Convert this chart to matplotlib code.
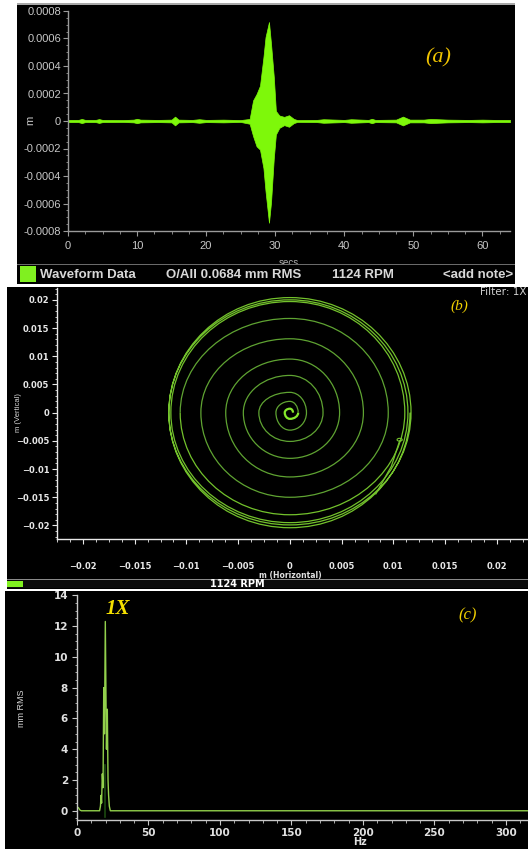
import numpy as np
import matplotlib.pyplot as plt
from matplotlib.patches import Rectangle, PathPatch, Ellipse
from matplotlib.path import Path
from matplotlib.ticker import MultipleLocator

# --- values ---
# (a) waveform envelope, secs vs m
wave_t = [0, 1.5, 2, 2.5, 4, 4.5, 5, 8, 9.5, 10, 10.5, 13, 15, 15.5, 16, 18, 19, 20,
          22.5, 25, 26.3, 26.8, 27.3, 27.8, 28.3, 28.6, 29.1, 29.4, 29.8, 30.1, 30.6,
          31.3, 32.0, 32.7, 33.2, 36, 37, 40, 41, 43.5, 44, 44.5, 47.5, 48.5, 49.5,
          51.5, 52.5, 55, 58, 60, 62, 64]
wave_hi = [0.8e-5, 0.8e-5, 1.5e-5, 0.8e-5, 0.8e-5, 1.4e-5, 0.8e-5, 0.7e-5, 1.0e-5, 1.6e-5,
           1.0e-5, 0.8e-5, 1.0e-5, 3.2e-5, 1.0e-5, 0.8e-5, 1.3e-5, 0.8e-5, 1.0e-5, 0.7e-5,
           1.5e-5, 1.5e-4, 1.96e-4, 2.57e-4, 4.65e-4, 6.1e-4, 7.2e-4, 5.6e-4, 3.2e-4, 7.3e-5,
           4.0e-5, 3.0e-5, 4.2e-5, 1.5e-5, 0.7e-5, 0.8e-5, 1.3e-5, 0.8e-5, 1.3e-5, 0.8e-5,
           1.6e-5, 0.8e-5, 1.0e-5, 3.2e-5, 1.0e-5, 1.0e-5, 1.5e-5, 1.0e-5, 0.8e-5, 1.0e-5,
           0.8e-5, 0.8e-5]
wave_lo = [-0.8e-5, -0.8e-5, -1.5e-5, -0.8e-5, -0.8e-5, -1.4e-5, -0.8e-5, -0.7e-5, -1.0e-5, -1.6e-5,
           -1.0e-5, -0.8e-5, -1.0e-5, -3.2e-5, -1.0e-5, -0.8e-5, -1.3e-5, -0.8e-5, -1.0e-5, -0.7e-5,
           -2.0e-5, -1.1e-4, -1.84e-4, -2.08e-4, -3.43e-4, -5.1e-4, -7.4e-4, -5.9e-4, -2.7e-4, -9.8e-5,
           -5.0e-5, -3.0e-5, -4.2e-5, -1.5e-5, -0.7e-5, -0.8e-5, -1.3e-5, -0.8e-5, -1.3e-5, -0.8e-5,
           -1.6e-5, -0.8e-5, -1.0e-5, -3.2e-5, -1.0e-5, -1.0e-5, -1.5e-5, -1.0e-5, -0.8e-5, -1.0e-5,
           -0.8e-5, -0.8e-5]
a_yticks = [-0.0008, -0.0006, -0.0004, -0.0002, 0, 0.0002, 0.0004, 0.0006, 0.0008]
a_ylabels = ['-0.0008', '-0.0006', '-0.0004', '-0.0002', '0', '0.0002', '0.0004', '0.0006', '0.0008']
a_xticks = [0, 10, 20, 30, 40, 50, 60]

# (b) orbit: successive axis crossings (right, top, left, bottom, ...), m
orbit_x = [0.0003, 0, -0.0005, 0, 0.0008, 0, -0.00135, 0, 0.0016, 0, -0.003, 0, 0.0032, 0,
           -0.0045, 0, 0.0048, 0, -0.0062, 0, 0.0071, 0, -0.0086, 0, 0.0095, 0, -0.0106, 0,
           0.0111, 0, -0.0115, 0, 0.0114, 0, -0.0117, 0, 0.0117, 0, -0.0117, 0, 0.0116]
orbit_y = [0, 0.0007, 0, -0.0011, 0, 0.0020, 0, -0.0031, 0, 0.0036, 0, -0.0051, 0, 0.0066,
           0, -0.0081, 0, 0.0095, 0, -0.0114, 0, 0.0131, 0, -0.0150, 0, 0.0167, 0, -0.0181,
           0, 0.0197, 0, -0.0195, 0, 0.0200, 0, -0.0199, 0, 0.0204, 0, -0.0204, 0]
tail_x = [0.0083, 0.0098, 0.0106]
tail_y = [-0.0144, -0.0095, -0.0050]
loop_xy = (0.0106, -0.0048)
b_ticks = [-0.02, -0.015, -0.01, -0.005, 0, 0.005, 0.01, 0.015, 0.02]
b_labels = ['\u22120.02', '\u22120.015', '\u22120.01', '\u22120.005', '0',
            '0.005', '0.01', '0.015', '0.02']

# (c) spectrum, Hz vs mm RMS
spec_hz = [0, 1, 2, 3, 15.8, 16.4, 16.8, 17.2, 17.7, 18.2, 18.7, 19.2, 19.8, 20.6, 21.2,
           21.7, 22.1, 22.6, 23.3, 320]
spec_amp = [0.25, 0.2, 0.05, 0, 0, 0.3, 1.0, 0.5, 2.4, 1.5, 8.0, 5.0, 12.3, 4.0, 6.6,
            2.0, 1.0, 0.3, 0, 0]
marker_hz = 19.6
c_yticks = [0, 2, 4, 6, 8, 10, 12, 14]
c_xticks = [0, 50, 100, 150, 200, 250, 300]

W, H = 528, 849
GREEN = '#7ef80a'
SANS = 'Liberation Sans'
WIDE = 'DejaVu Sans'


def fig_rect(x0, y0, x1, y1):
    return [x0 / W, 1 - y1 / H, (x1 - x0) / W, (y1 - y0) / H]


def add_box(fig, x0, y0, x1, y1, color, z=-1):
    fig.add_artist(Rectangle((x0 / W, 1 - y1 / H), (x1 - x0) / W, (y1 - y0) / H,
                             transform=fig.transFigure, facecolor=color,
                             edgecolor='none', zorder=z))


def fig_text(fig, x, y, s, **kw):
    fig.text(x / W, 1 - y / H, s, **kw)


def style_axes(ax, color):
    ax.set_facecolor('none')
    for side in ['top', 'right']:
        ax.spines[side].set_visible(False)
    for side in ['left', 'bottom']:
        ax.spines[side].set_color(color)
        ax.spines[side].set_linewidth(1.0)


fig = plt.figure(figsize=(W / 100, H / 100), dpi=100)
fig.patch.set_facecolor('white')

# ---------------- panel (a) ----------------
add_box(fig, 17, 3, 515, 284, 'black')
add_box(fig, 17, 3, 515, 4.5, '#a8a8a8', z=-0.5)
ax_a = fig.add_axes(fig_rect(68, 11, 510, 231))
style_axes(ax_a, '#9a9a9a')
ax_a.fill_between(wave_t, wave_lo, wave_hi, color=GREEN, lw=0.5)
ax_a.set_xlim(0, 64)
ax_a.set_ylim(-0.0008, 0.0008)
ax_a.set_yticks(a_yticks)
ax_a.set_yticklabels(a_ylabels)
ax_a.set_xticks(a_xticks)
ax_a.xaxis.set_minor_locator(MultipleLocator(2.5))
ax_a.yaxis.set_minor_locator(MultipleLocator(0.00005))
ax_a.tick_params(which='both', colors='#9a9a9a', labelcolor='#c8c8c8', labelsize=8)
ax_a.tick_params(which='major', length=3.5, width=0.8)
ax_a.tick_params(which='minor', length=1.8, width=0.6)
ax_a.tick_params(axis='y', pad=1.5)
ax_a.tick_params(axis='x', pad=4)
for lab in ax_a.get_xticklabels() + ax_a.get_yticklabels():
    lab.set_family(SANS)
fig_text(fig, 30, 120, 'm', rotation=90, ha='center', va='center', color='#c8c8c8',
         fontsize=8, family=SANS)
fig_text(fig, 289, 263, 'secs', ha='center', va='center', color='#b0b0b0',
         fontsize=7, family=SANS, zorder=4)
fig_text(fig, 438, 58, '(a)', ha='center', va='center', color='#f0c400',
         fontsize=16, style='italic', family='Liberation Serif')

# legend bar
add_box(fig, 17, 264, 515, 284, '#6a6a6a', z=5)
add_box(fig, 17, 265.5, 515, 284, 'black', z=5.1)
add_box(fig, 20, 266.5, 36, 282, '#80f020', z=6)
bar_kw = dict(va='center', color='#d8d8d8', fontsize=9.5, weight='bold', family=SANS, zorder=7)
fig_text(fig, 40, 274.5, 'Waveform Data', ha='left', **bar_kw)
fig_text(fig, 166, 274.5, 'O/All 0.0684 mm RMS', ha='left', **bar_kw)
fig_text(fig, 332, 274.5, '1124 RPM', ha='left', **bar_kw)
fig_text(fig, 513, 274.5, '<add note>', ha='right', **bar_kw)

# ---------------- panel (b) ----------------
add_box(fig, 7, 287.5, 528, 589, 'black')
ax_b = fig.add_axes(fig_rect(57, 288, 528, 539))
style_axes(ax_b, '#e8e8e8')
pts = np.column_stack([orbit_x, orbit_y])
k = 0.5523


def orbit_patch(p, color, lw):
    verts = [p[0]]
    codes = [Path.MOVETO]
    for p0, p1 in zip(p[:-1], p[1:]):
        verts += [p0 + k * p1, p1 + k * p0, p1]
        codes += [Path.CURVE4] * 3
    return PathPatch(Path(verts, codes), facecolor='none', edgecolor=color, lw=lw)


ax_b.add_patch(orbit_patch(pts[:5], '#86e82c', 1.6))
ax_b.add_patch(orbit_patch(pts[4:27], '#5fa332', 0.9))
ax_b.add_patch(orbit_patch(pts[26:], '#73c22c', 0.9))
ax_b.plot(tail_x, tail_y, color='#73c22c', lw=0.9)
ax_b.add_patch(Ellipse(loop_xy, 0.0005, 0.0005, facecolor='none', edgecolor='#73c22c', lw=0.8))
ax_b.set_xlim(-0.0225, 0.023)
ax_b.set_ylim(-0.0224, 0.0221)
ax_b.set_xticks(b_ticks)
ax_b.set_xticklabels(b_labels)
ax_b.set_yticks(b_ticks)
ax_b.set_yticklabels(b_labels)
ax_b.xaxis.set_minor_locator(MultipleLocator(0.00125))
ax_b.yaxis.set_minor_locator(MultipleLocator(0.001))
ax_b.tick_params(which='both', colors='#e8e8e8', labelcolor='#e8e8e8', labelsize=6)
ax_b.tick_params(which='major', length=3.5, width=0.8)
ax_b.tick_params(which='minor', length=1.8, width=0.6)
ax_b.tick_params(axis='x', pad=13)
ax_b.tick_params(axis='y', pad=2)
for lab in ax_b.get_xticklabels() + ax_b.get_yticklabels():
    lab.set_family(WIDE)
    lab.set_weight('bold')
fig_text(fig, 290, 575.5, 'm (Horizontal)', ha='center', va='center', color='#e0e0e0',
         fontsize=5.5, weight='bold', family=WIDE)
fig_text(fig, 18, 413, 'm (Vertical)', rotation=90, ha='center', va='center',
         color='#d8d8d8', fontsize=5.5, family=SANS)
fig_text(fig, 526, 292, 'Filter: 1X', ha='right', va='center', color='#d0d0d0',
         fontsize=7.5, family=WIDE)
fig_text(fig, 459, 306, '(b)', ha='center', va='center', color='#f0d000',
         fontsize=11, style='italic', family='Liberation Serif')
add_box(fig, 7, 578.5, 528, 580, '#8a8a8a', z=5)
add_box(fig, 7, 580, 528, 588, '#0c0c0c', z=5)
add_box(fig, 7, 580.5, 23, 587, '#80f020', z=6)
fig_text(fig, 237, 584, '1124 RPM', ha='center', va='center', color='white',
         fontsize=7, weight='bold', family=WIDE, zorder=7)

# ---------------- panel (c) ----------------
add_box(fig, 5, 590.5, 528, 849, 'black')
ax_c = fig.add_axes(fig_rect(77, 595.3, 528, 820))
style_axes(ax_c, '#c8c8c8')
ax_c.plot(spec_hz, spec_amp, color='#92d04c', lw=1.0)
ax_c.plot([marker_hz, marker_hz], [-0.4, 3.0], color='#1c4a10', lw=1.2)
ax_c.set_xlim(0, 315.4)
ax_c.set_ylim(-0.6, 14)
ax_c.set_xticks(c_xticks)
ax_c.set_yticks(c_yticks)
ax_c.xaxis.set_minor_locator(MultipleLocator(10))
ax_c.yaxis.set_minor_locator(MultipleLocator(0.5))
ax_c.tick_params(which='both', colors='#c8c8c8', labelcolor='#e0e0e0', labelsize=7.5)
ax_c.tick_params(which='major', length=3.5, width=0.8)
ax_c.tick_params(which='minor', length=1.8, width=0.6)
ax_c.tick_params(axis='x', pad=2)
ax_c.tick_params(axis='y', pad=3)
for lab in ax_c.get_xticklabels() + ax_c.get_yticklabels():
    lab.set_family(WIDE)
    lab.set_weight('bold')
fig_text(fig, 360, 842, 'Hz', ha='center', va='center', color='#e0e0e0',
         fontsize=7, weight='bold', family=WIDE)
fig_text(fig, 21, 708, 'mm RMS', rotation=90, ha='center', va='center',
         color='#d8d8d8', fontsize=6.5, family=SANS)
fig_text(fig, 118, 609, '1X', ha='center', va='center', color='#f5e000',
         fontsize=15, style='italic', weight='bold', family='Liberation Serif')
fig_text(fig, 468, 615, '(c)', ha='center', va='center', color='#f0d000',
         fontsize=12, style='italic', family='Liberation Serif')

fig.savefig('out.png', dpi=100, facecolor='white')
